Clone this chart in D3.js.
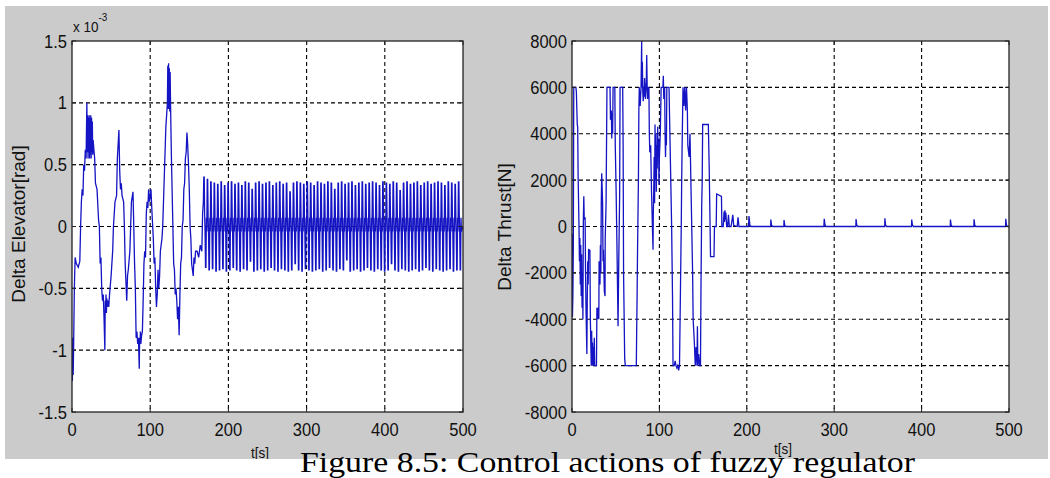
<!DOCTYPE html>
<html>
<head>
<meta charset="utf-8">
<script src="https://cdnjs.cloudflare.com/ajax/libs/d3/7.8.5/d3.min.js"></script>
<style>
  body { margin: 0; background: #fff; }
  svg { display: block; }
  text { font-family: Arial, "Liberation Sans", sans-serif; fill: #111; }
</style>
</head>
<body>
<script>
const w = 1050;
const h = 478;

const figBg = "#cbcbcb";
const lineColor = "#1414c4";

// ---- data ----
const timeTicks = [0, 100, 200, 300, 400, 500];
const elevTicks = [-1.5, -1, -0.5, 0, 0.5, 1, 1.5];
const elevTickLabels = ["-1.5", "-1", "-0.5", "0", "0.5", "1", "1.5"];
const thrustTicks = [-8000, -6000, -4000, -2000, 0, 2000, 4000, 6000, 8000];

// delta elevator, units of 1e-3 rad, first 168 s as [t, value]
const elevEarly = [
  [0, -0.95], [0.5, -1.25], [1, -0.9], [1.5, -1.2], [2, -1.0], [3, -0.5], [4, -0.25],
  [5.5, -0.3], [8, -0.33], [10, -0.28], [11, 0.0], [12, 0.2], [13, 0.3], [14, 0.25],
  [15, 0.5], [16, 0.45], [17, 0.62], [18, 0.55], [19, 1.0], [19.5, 0.6], [20, 0.9],
  [20.5, 0.55], [21, 0.88], [21.5, 0.6], [22, 0.9], [22.5, 0.55], [23, 0.88], [23.5, 0.58],
  [24, 0.9], [24.5, 0.55], [25, 0.88], [25.5, 0.6], [26, 0.85], [26.5, 0.58], [27, 0.7],
  [28, 0.62], [29, 0.55], [30, 0.35], [32, 0.3], [34, 0.05], [35, 0.0], [36, -0.3],
  [37, -0.25], [38, -0.5], [39, -0.6], [40, -0.55], [41, -0.75], [42, -1.0], [42.5, -0.6],
  [43, -0.7], [43.5, -0.55], [44, -0.7], [44.5, -0.58], [45, -0.65], [46, -0.6], [47, -0.65],
  [48, -0.55], [50, -0.4], [52, -0.2], [53, 0.0], [55, 0.2], [57, 0.25], [58, 0.55],
  [60, 0.78], [61, 0.45], [62, 0.3], [63, 0.35], [64, 0.25], [66, 0.2], [67, 0.0],
  [68, -0.3], [69, -0.45], [70, -0.6], [71, -0.4], [72, -0.35], [74, -0.2], [76, 0.2],
  [78, 0.28], [79, 0.0], [80, -0.3], [81, -0.5], [82, -0.9], [83, -0.85], [84, -0.95],
  [85, -0.9], [86, -1.15], [86.5, -0.9], [87, -0.95], [87.5, -0.85], [88, -0.95], [89, -0.88],
  [90, -0.85], [91, -0.6], [92, -0.3], [93, -0.2], [94, -0.25], [95, 0.1], [96, 0.2],
  [97, 0.15], [98, 0.3], [99, 0.2], [100, 0.25], [101, 0.3], [102, 0.15], [104, -0.1],
  [105, -0.3], [106, -0.25], [107, -0.5], [108, -0.65], [109, -0.55], [110, -0.35], [111, -0.5],
  [112, -0.4], [113, -0.2], [115, -0.1], [116, 0.0], [117, 0.2], [118, 0.4], [119, 0.6],
  [120, 0.8], [121, 0.9], [122, 1.0], [122.5, 1.3], [123, 0.95], [123.5, 1.32], [124, 0.95],
  [124.5, 1.28], [125, 0.93], [125.5, 1.25], [126, 1.0], [127, 0.6], [128, 0.3], [129, 0.0],
  [130, -0.3], [131, -0.35], [132, -0.55], [133, -0.5], [134, -0.6], [135, -0.75], [136, -0.65],
  [137, -0.88], [138, -0.55], [139, -0.3], [140, -0.25], [141, 0.0], [142, 0.05], [143, 0.3],
  [144, 0.35], [145, 0.55], [146, 0.6], [147, 0.76], [148, 0.65], [149, 0.5], [150, 0.3],
  [151, 0.0], [152, -0.1], [153, -0.3], [154, -0.35], [155, -0.4], [156, -0.25], [157, -0.3],
  [158, -0.2], [160, -0.2], [162, -0.25], [163, -0.2], [164, -0.15], [166, -0.2], [167, 0.1],
  [168, 0.2]
];

// fast limit cycle after 168 s: one high and one low pulse per cycle,
// with the small chatter around zero in between
const elevOscStart = 168;
const elevOscStep = 0.55;
const elevOscMid = [0.08, -0.05, 0.07, -0.04];
const elevOscHigh = [
  0.40, 0.38, 0.36, 0.35, 0.34, 0.36, 0.33, 0.35, 0.36, 0.34,
  0.35, 0.33, 0.36, 0.35, 0.30, 0.35, 0.36, 0.34, 0.35, 0.36,
  0.33, 0.35, 0.36, 0.34, 0.35, 0.28, 0.35, 0.36, 0.35, 0.34,
  0.36, 0.35, 0.33, 0.36, 0.35, 0.34, 0.36, 0.35, 0.30, 0.35,
  0.36, 0.34, 0.35, 0.36, 0.33, 0.35, 0.36, 0.34, 0.35, 0.36,
  0.35, 0.33, 0.36, 0.35, 0.34, 0.36, 0.35, 0.29, 0.35, 0.36,
  0.34, 0.35, 0.36, 0.33, 0.35, 0.36, 0.34, 0.35, 0.36, 0.35,
  0.33, 0.36, 0.35, 0.34, 0.36
];
const elevOscLow = [
  -0.33, -0.35, -0.34, -0.36, -0.35, -0.34, -0.36, -0.35, -0.33, -0.35,
  -0.36, -0.34, -0.35, -0.28, -0.36, -0.35, -0.34, -0.36, -0.35, -0.33,
  -0.35, -0.36, -0.34, -0.35, -0.36, -0.35, -0.30, -0.35, -0.36, -0.34,
  -0.35, -0.36, -0.35, -0.34, -0.36, -0.35, -0.33, -0.35, -0.36, -0.34,
  -0.35, -0.27, -0.36, -0.35, -0.34, -0.36, -0.35, -0.33, -0.35, -0.36,
  -0.34, -0.35, -0.36, -0.35, -0.30, -0.35, -0.36, -0.34, -0.35, -0.36,
  -0.35, -0.34, -0.36, -0.35, -0.33, -0.35, -0.36, -0.34, -0.35, -0.36,
  -0.35, -0.34, -0.36, -0.35, -0.35
];

// delta thrust [N] as [t, value]
const thrust = [
  [0, -300], [0.5, -3900], [1, -3000], [1.5, -1000], [2, 6000], [4.5, 6000], [5, 5800],
  [6, 4400], [6.5, 4300], [7, 2200], [8, 0], [8.5, -1500], [9, -500], [9.5, -2500],
  [10, -800], [10.5, -3000], [11, -1200], [11.5, -3500], [12, -2000], [12.5, -4000],
  [13, 300], [13.5, 1300], [14, 300], [15, 400], [15.5, -2000], [16, -3500], [17, -5500],
  [17.5, -3000], [18, -1500], [18.5, -2500], [19, -1000], [20.5, -1030], [21, -4000],
  [22, -6000], [22.5, -4500], [23, -6000], [23.5, -5000], [24, -6000], [24.5, -5200],
  [25, -6000], [25.5, -4800], [26, -6000], [28, -6000], [28.5, -3500], [29, -4000],
  [30, -3500], [30.7, -4000], [31, -1500], [32, -2500], [32.5, -800], [33, -2000],
  [33.5, 1000], [34, 2300], [35, 1000], [35.5, -1500], [36, -1000], [37, -2800],
  [37.8, -3000], [38, -500], [39, 1000], [40, 6000], [43.5, 6000], [44, 4600], [45, 5000],
  [45.5, 3800], [46, 4900], [46.5, 4000], [47, 6000], [49, 6000], [49.5, 3500], [50.5, 1500],
  [51.5, -1000], [52.7, -4300], [53.5, -1500], [54.5, 1300], [55, 6000], [58, 6000],
  [58.5, 3500], [59, -2000], [60.3, -5700], [61, -6000], [73.6, -6000], [74, -4500],
  [74.5, -3000], [75, -1000], [76, 2000], [76.5, 5000], [77, 6000], [78, 5200], [79, 6000],
  [79.7, 8000], [80, 6000], [80.5, 7100], [81, 5800], [81.5, 5400], [82, 6000], [82.5, 5600],
  [83, 6400], [83.5, 6000], [84, 5500], [85, 6200], [85.5, 7400], [86, 6000], [86.5, 5500],
  [87, 6000], [88, 6000], [88.5, 4000], [89, 3200], [90, 3500], [91, 1500], [92, 0],
  [92.7, -1000], [93, 500], [93.5, 1500], [94, 3000], [94.5, 1000], [95, 4400], [95.5, 2000],
  [96, 4000], [96.5, 1500], [97, 3500], [97.5, 2500], [98, 4300], [98.5, 3000], [99, 3800],
  [99.5, 1800], [100, 3000], [101, 4000], [102, 6000], [104, 6000], [104.5, 6500],
  [105, 5500], [106, 6000], [106.5, 4000], [107, 3000], [107.5, 4000], [108, 3500],
  [108.5, 6000], [111, 6000], [112, 4000], [113, 2000], [114, 0], [115, -3000],
  [115.6, -6000], [117, -6000], [118, -5800], [119, -6000], [120, -6100], [121, -6000],
  [122, -6200], [123, -6000], [124, -3000], [125, 0], [125.5, 2000], [126, 3500],
  [127, 6000], [128, 5200], [129, 6000], [130, 5000], [131, 6000], [132, 5000],
  [132.5, 3500], [134, 3000], [135, 4000], [136, 2000], [137, 0], [138, -2000],
  [138.6, -4000], [140, -5000], [141, -6000], [142, -5200], [143, -6000], [143.5, -4300],
  [144, -6000], [145, -5500], [146, -6000], [147, -6000], [147.5, -3000], [148.4, 900],
  [149, 2000], [149.5, 4400], [156, 4400], [157, 2500], [158, 0], [158.5, -1300],
  [162.5, -1300], [163, 0], [165, 0], [165.5, 1400], [171, 1300], [171.5, 0], [173, 0],
  [174, 650], [174.5, 200], [175, 700], [175.5, 300], [176, 600], [177, 0], [178, 0],
  [179, 500], [180, 0], [182, 0], [184, 500], [185, 50], [189, 0], [190, 400], [191, 0],
  [202, 0], [202.5, 450], [203.5, 50], [205, 0],
  [227.3, 0], [227.5, 300], [228.3, 60], [229.5, 0],
  [242.4, 0], [242.6, 280], [243.4, 50], [244.6, 0],
  [288.2, 0], [288.6, 330], [289.4, 80], [290.5, 0],
  [324.8, 0], [325, 320], [325.8, 60], [327, 0],
  [357.8, 0], [358, 350], [358.8, 60], [360, 0],
  [388.5, 0], [388.7, 300], [389.5, 60], [390.7, 0],
  [432.8, 0], [433, 300], [433.8, 60], [435, 0],
  [459.8, 0], [460, 310], [460.8, 60], [462, 0],
  [496.1, 0], [496.3, 330], [497.1, 60], [498.3, 0], [500, 0]
];

// build the full elevator series from the read peaks
const elevSeries = elevEarly.slice();
elevOscHigh.forEach(function (hi, i) {
  const t0 = elevOscStart + (8 * i + 1) * elevOscStep;
  const lo = elevOscLow[i];
  const cycle = [hi, hi, elevOscMid[0], elevOscMid[1],
                 lo, lo, elevOscMid[2], elevOscMid[3]];
  cycle.forEach(function (v, k) {
    elevSeries.push([t0 + k * elevOscStep, v]);
  });
});
elevSeries.push([500, 0]);

// ---- drawing ----
const svg = d3.select("body")
  .append("svg")
  .attr("width", w)
  .attr("height", h);

const defs = svg.append("defs");
defs.append("clipPath").attr("id", "figClip")
  .append("rect").attr("x", 0).attr("y", 0).attr("width", w).attr("height", 459);

const fig = svg.append("g").attr("clip-path", "url(#figClip)");

fig.append("rect")
  .attr("x", 5).attr("y", 6)
  .attr("width", 1043).attr("height", 460)
  .attr("fill", figBg);

function drawPanel(p) {
  const x = d3.scaleLinear().domain([0, 500]).range([p.left, p.right]);
  const y = d3.scaleLinear().domain(p.yDomain).range([p.bottom, p.top]);
  const g = fig.append("g");

  g.append("rect")
    .attr("x", p.left).attr("y", p.top)
    .attr("width", p.right - p.left).attr("height", p.bottom - p.top)
    .attr("fill", "#fff");

  // dotted grid
  g.append("g").selectAll("line")
    .data(timeTicks.slice(1, -1))
    .enter().append("line")
    .attr("x1", d => x(d)).attr("x2", d => x(d))
    .attr("y1", p.top).attr("y2", p.bottom)
    .attr("stroke", "#000").attr("stroke-width", 1.1).attr("stroke-dasharray", "4,3");

  g.append("g").selectAll("line")
    .data(p.yTicks.slice(1, -1))
    .enter().append("line")
    .attr("x1", p.left).attr("x2", p.right)
    .attr("y1", d => y(d)).attr("y2", d => y(d))
    .attr("stroke", "#000").attr("stroke-width", 1.1).attr("stroke-dasharray", "4,3");

  // signal
  const clipId = "clip" + p.id;
  defs.append("clipPath").attr("id", clipId)
    .append("rect")
    .attr("x", p.left).attr("y", p.top)
    .attr("width", p.right - p.left).attr("height", p.bottom - p.top);

  const line = d3.line().x(d => x(d[0])).y(d => y(d[1]));
  g.append("path")
    .datum(p.series)
    .attr("clip-path", "url(#" + clipId + ")")
    .attr("d", line)
    .attr("fill", "none")
    .attr("stroke", lineColor)
    .attr("stroke-width", 1.3)
    .attr("stroke-linejoin", "miter");

  // box
  g.append("rect")
    .attr("x", p.left).attr("y", p.top)
    .attr("width", p.right - p.left).attr("height", p.bottom - p.top)
    .attr("fill", "none").attr("stroke", "#222").attr("stroke-width", 1.3);

  // inner ticks on all sides
  const tk = 4;
  timeTicks.forEach(function (d) {
    g.append("line").attr("x1", x(d)).attr("x2", x(d))
      .attr("y1", p.bottom).attr("y2", p.bottom - tk).attr("stroke", "#222");
    g.append("line").attr("x1", x(d)).attr("x2", x(d))
      .attr("y1", p.top).attr("y2", p.top + tk).attr("stroke", "#222");
  });
  p.yTicks.forEach(function (d) {
    g.append("line").attr("x1", p.left).attr("x2", p.left + tk)
      .attr("y1", y(d)).attr("y2", y(d)).attr("stroke", "#222");
    g.append("line").attr("x1", p.right).attr("x2", p.right - tk)
      .attr("y1", y(d)).attr("y2", y(d)).attr("stroke", "#222");
  });

  // tick labels (narrow MATLAB look)
  g.append("g").selectAll("text")
    .data(timeTicks)
    .enter().append("text")
    .attr("transform", d => "translate(" + x(d) + "," + 436 + ") scale(0.87,1)")
    .attr("text-anchor", "middle")
    .style("font-size", "19px")
    .text(d => d);

  g.append("g").selectAll("text")
    .data(p.yTicks)
    .enter().append("text")
    .attr("transform", d => "translate(" + (p.left - 5) + "," + (y(d) + 6.5) + ") scale(0.87,1)")
    .attr("text-anchor", "end")
    .style("font-size", "19px")
    .text((d, i) => p.yTickLabels[i]);

  // axis labels
  g.append("text")
    .attr("transform", "translate(" + p.xLabelX + "," + p.xLabelY + ") scale(0.9,1)")
    .attr("text-anchor", "middle")
    .style("font-size", "15px")
    .text("t[s]");

  g.append("text")
    .attr("transform", "translate(" + p.yLabelX + "," + p.yLabelY + ") rotate(-90)")
    .attr("text-anchor", "middle")
    .style("font-size", "19px")
    .text(p.yLabel);

  return { x: x, y: y };
}

drawPanel({
  id: "elev",
  left: 72, right: 463, top: 41, bottom: 412,
  yDomain: [-1.5, 1.5],
  yTicks: elevTicks,
  yTickLabels: elevTickLabels,
  series: elevSeries,
  yLabel: "Delta Elevator[rad]",
  yLabelX: 25, yLabelY: 224,
  xLabelX: 260, xLabelY: 458
});

drawPanel({
  id: "thrust",
  left: 572, right: 1009, top: 41, bottom: 412,
  yDomain: [-8000, 8000],
  yTicks: thrustTicks,
  yTickLabels: thrustTicks.map(String),
  series: thrust,
  yLabel: "Delta Thrust[N]",
  yLabelX: 511, yLabelY: 227,
  xLabelX: 783, xLabelY: 454
});

// exponent label above the left axes
const expo = fig.append("text")
  .attr("transform", "translate(73,31.5) scale(0.9,1)")
  .style("font-size", "15px");
expo.append("tspan").text("x 10");
expo.append("tspan").attr("dy", -11).style("font-size", "11px").text("-3");

// caption
svg.append("text")
  .attr("x", 300).attr("y", 472)
  .attr("textLength", 615)
  .attr("lengthAdjust", "spacingAndGlyphs")
  .style("font-family", "'Liberation Serif', 'Times New Roman', Tinos, 'DejaVu Serif', serif")
  .style("font-size", "30px")
  .style("fill", "#000")
  .text("Figure 8.5: Control actions of fuzzy regulator");
</script>
</body>
</html>
